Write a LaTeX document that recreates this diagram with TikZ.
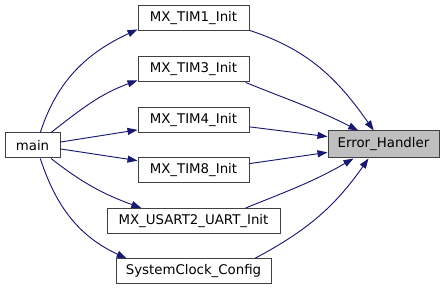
\documentclass[tikz,border=0pt]{standalone}
\usepackage{fontspec}
\setmainfont{DejaVu Sans}
\usepackage{xcolor}
\usepackage{tikz}
\usetikzlibrary{arrows.meta,positioning}

\definecolor{edgeblue}{HTML}{191970}
\definecolor{boxline}{HTML}{404040}
\definecolor{hlfill}{HTML}{BFBFBF}

\begin{document}
\begin{tikzpicture}[x=0.75pt, y=-0.75pt,
    fn/.style={draw=boxline, line width=0.75pt, fill=white, rectangle, inner sep=0pt,
               minimum height=18.75pt, font=\fontsize{10}{12}\selectfont},
    call/.style={draw=edgeblue, line width=0.7pt, -{Triangle[length=7.5pt, width=5.25pt]}, fill=none}]
    \useasboundingbox (0,0) rectangle (444,291);

    % callers and callees
    \node[fn, minimum width=41.25pt] (main) at (32.5,145.5) {main};
    \node[fn, minimum width=83.25pt] (tim1) at (193.5,18.5) {MX\_TIM1\_Init};
    \node[fn, minimum width=83.25pt] (tim3) at (193.5,69.5) {MX\_TIM3\_Init};
    \node[fn, minimum width=83.25pt] (tim4) at (193.5,120) {MX\_TIM4\_Init};
    \node[fn, minimum width=83.25pt] (tim8) at (193.5,170.5) {MX\_TIM8\_Init};
    \node[fn, minimum width=129.75pt] (usart2) at (193.5,221) {MX\_USART2\_UART\_Init};
    \node[fn, minimum width=116.25pt] (sysclk) at (193.5,271.5) {SystemClock\_Config};
    \node[fn, fill=hlfill, minimum width=83.25pt, minimum height=20.25pt] (err) at (383.5,144.5) {Error\_Handler};

    % main calls the init functions
    \draw[call] (main.59) to[out=72, in=205] (tim1.191);
    \draw[call] (main.35) to[out=38, in=200] (tim3.191);
    \draw[call] (main.7) -- (tim4.190);
    \draw[call] (main.-7) -- (tim8.170);
    \draw[call] (main.-35) to[out=-38, in=160] (usart2.166);
    \draw[call] (main.-59) to[out=-72, in=155] (sysclk.169);

    % every init function may end in the error handler
    \draw[call] (tim1.-12) to[out=-18, in=125] (err.125);
    \draw[call] (tim3.-14) to[out=-22, in=153] (err.151);
    \draw[call] (tim4.-7) -- (err.172);
    \draw[call] (tim8.7) -- (err.188);
    \draw[call] (usart2.14) to[out=22, in=210] (err.205);
    \draw[call] (sysclk.12) to[out=28, in=235] (err.223);
\end{tikzpicture}
\end{document}
